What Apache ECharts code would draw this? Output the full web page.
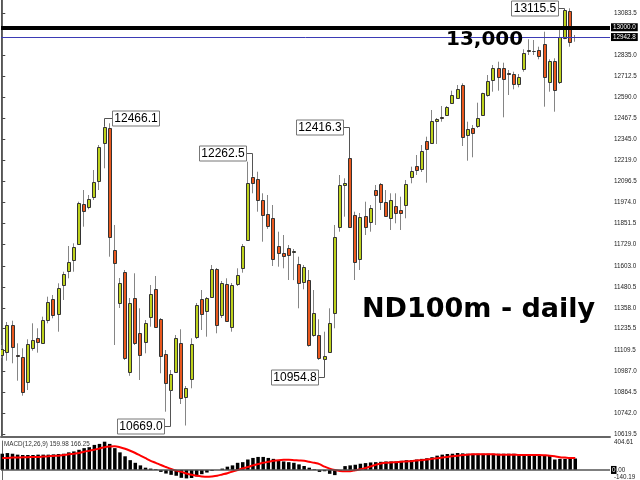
<!DOCTYPE html>
<html>
<head>
<meta charset="utf-8">
<script src="https://cdn.jsdelivr.net/npm/echarts@6/dist/echarts.min.js"></script>
<style>html,body{margin:0;padding:0;background:#fff}#c{width:640px;height:480px}</style>
</head>
<body>
<div id="c"></div>
<script>
// ---- data ----
const opens = [11081.8,11097.6,11255.6,11081.8,11071.8,10925.5,11124.5,11183.0,11153.8,11286.6,
11407.8,11321.8,11491.5,11575.2,11637.8,11729.7,11965.6,11949.8,12008.3,12102.0,
12320.9,12408.7,11696.3,11387.9,11569.3,10984.0,11413.7,11208.8,11159.6,11306.0,
11466.3,11292.5,11087.6,10876.9,10984.0,11150.3,10837.7,10939.6,11185.4,11407.8,
11339.3,11423.0,11583.4,11315.9,11497.3,11243.9,11497.3,11589.2,11754.9,12125.4,
12110.2,11989.0,11907.1,11881.9,11719.8,11680.5,11706.3,11684.6,11614.4,11507.3,
11520.8,11198.8,11198.8,11056.6,11101.1,11325.9,11832.7,12076.8,12233.1,11901.2,
11641.9,11895.4,11862.0,12047.5,12082.6,11979.1,11885.4,11953.9,11930.5,11959.7,
12121.9,12188.0,12168.7,12336.1,12320.9,12453.1,12473.0,12486.5,12555.0,12584.2,
12662.1,12369.4,12408.7,12422.1,12486.5,12603.6,12691.4,12759.8,12759.8,12730.6,
12726.5,12667.9,12754.0,12862.9,12861.1,12866.9,12902.1,12681.4,12802.6,12681.4,
12935.4,13097.0,12945.0];
const highs = [11140.3,11274.9,11282.5,11150.3,11121.0,11173.7,11267.3,11238.1,11306.0,11423.0,
11433.0,11501.4,11569.3,11719.8,11735.6,11979.1,12047.5,12018.3,12164.6,12310.9,
12422.1,12437.9,11842.7,11532.5,11579.3,11415.4,11560.0,11355.1,11286.6,11491.5,
11544.2,11298.3,11111.0,10994.0,11198.8,11232.2,10900.3,11179.5,11386.2,11462.2,
11421.3,11608.6,11591.0,11514.9,11530.7,11503.2,11589.2,11731.5,12213.2,12125.4,
12154.6,12028.2,12018.3,11959.7,11803.5,11784.1,11725.6,11702.2,11657.1,11608.6,
11579.3,11462.2,11290.7,11218.2,11355.1,11842.7,12135.3,12116.0,12233.1,11920.5,
11912.9,11979.1,11959.7,12076.8,12088.5,12047.5,12028.2,12028.2,12008.3,12106.1,
12183.9,12252.4,12310.9,12359.5,12515.8,12468.9,12539.2,12539.2,12628.7,12662.1,
12672.0,12447.3,12428.0,12558.5,12617.0,12720.6,12779.2,12798.5,12792.6,12749.9,
12740.0,12726.5,12871.0,12929.6,12925.5,12886.3,12974.1,12812.5,12818.4,13003.3,
13101.1,13111.0,12954.7];
const lows = [11064.2,11048.4,11033.2,10931.4,10843.6,10876.9,11107.0,11095.3,11152.0,11267.3,
11296.6,11218.2,11403.7,11530.7,11569.3,11725.6,11832.7,11934.6,11989.0,12047.5,
12174.5,11657.1,11140.3,11356.9,11052.5,10960.0,11140.3,10935.5,11091.7,11247.4,
11239.8,10974.7,10749.9,10876.9,10982.0,10795.0,10669.0,10886.9,11175.4,11228.1,
11188.9,11421.3,11208.8,11298.3,11274.9,11218.2,11485.6,11563.5,11749.0,12028.2,
11920.5,11744.9,11820.0,11602.7,11598.6,11589.2,11520.8,11520.0,11355.1,11466.3,
11130.4,11188.9,11052.5,11056.6,11093.5,11238.1,11803.5,11891.3,11825.0,11520.8,
11579.3,11784.1,11803.5,11842.7,11930.5,11890.0,11813.4,11852.6,11813.4,11881.9,
12086.7,12135.3,12152.9,12090.3,12316.8,12316.8,12447.3,12480.7,12550.9,12580.2,
12305.1,12219.0,12238.9,12410.4,12480.7,12593.6,12622.9,12628.7,12473.0,12603.6,
12636.9,12648.6,12740.0,12837.7,12837.7,12812.5,12535.1,12622.9,12505.8,12667.9,
12930.0,12886.3,12915.5];
const closes = [11116.9,11255.6,11126.8,11078.5,10867.0,11146.2,11169.6,11157.9,11286.6,11393.8,
11315.9,11472.2,11555.9,11626.1,11715.7,11969.7,11926.4,11993.1,12096.1,12301.0,
12414.5,11774.2,11618.5,11501.4,11062.5,11384.4,11150.3,11081.8,11270.8,11437.1,
11243.9,11075.9,10919.7,10970.6,11179.5,10828.4,10890.4,11146.2,11374.4,11321.8,
11413.7,11583.4,11257.4,11505.0,11282.5,11491.5,11550.0,11719.8,12086.7,12086.7,
11989.0,11901.2,11836.8,11641.9,11677.0,11661.2,11667.1,11692.3,11505.0,11595.1,
11140.3,11329.4,11062.5,11075.9,11267.3,11770.7,12076.8,12090.3,11832.7,11627.9,
11891.3,11832.7,11940.4,12018.3,11979.1,11895.4,11989.0,11911.2,11911.2,12082.6,
12158.7,12164.6,12277.6,12285.8,12453.1,12463.1,12470.0,12531.6,12603.6,12636.9,
12359.5,12402.8,12379.4,12467.2,12613.5,12685.5,12759.8,12707.2,12695.5,12728.0,
12667.9,12710.7,12847.6,12866.9,12859.0,12831.8,12707.2,12802.6,12632.8,12941.3,
13101.1,12915.5,12942.8];
const macdHist = [227,236,227,214,209,209,209,214,214,214,
218,223,227,246,259,282,305,318,350,364,
395,364,305,246,191,137,100,64,32,19,
10,-27,-50,-68,-81,-110,-118,-112,-90,-59,
-36,-13,0,19,46,64,100,109,146,168,
182,182,168,155,137,119,109,100,78,55,
32,10,-27,-18,-54,-72,-13,54,64,73,
87,96,105,109,114,119,119,119,128,137,
137,146,155,164,178,200,214,223,227,237,
232,227,227,227,227,227,227,227,227,227,
227,214,209,209,205,200,200,196,146,155,
155,155,159.98];
const macdSignal = [168,168,173,173,178,178,182,182,187,191,
196,200,209,218,227,237,255,268,282,300,
318,327,332,318,296,268,237,200,164,128,
100,69,41,14,-9,-27,-50,-68,-81,-90,
-95,-90,-81,-63,-45,-22,0,23,41,64,
82,100,114,128,137,141,141,137,132,128,
114,100,82,46,19,0,-13,-18,-18,-4,
10,28,50,73,91,100,105,109,114,119,
123,132,137,146,155,164,173,182,191,200,
209,214,218,218,218,218,218,214,214,214,
214,209,209,209,209,209,205,200,191,178,
173,168,166.25];
const priceTicks = [13083.5,12835.0,12712.5,12590.0,12467.5,12345.0,12219.0,12096.5,11974.0,11851.5,
11729.0,11603.0,11480.5,11358.0,11235.5,11109.5,10987.0,10864.5,10742.0,10619.5];
const macdTicks = [404.61, 0, -140.19];
const annIndex = [20, 49, 68, 110, 63, 33];
const annValue = [12466.1, 12262.5, 12416.3, 13115.5, 10954.8, 10669.0];
const annSide = ['right','left','left','left','left','left'];
const annAnchor = ['high','high','high','high','low','low'];
const levelRound = 13000.0;
const levelLast = 12942.8;

// ---- chart ----
const BULL = '#bdd11c', BEAR = '#e9581e', EDGE = '#333', WICK = '#858585';
const chart = echarts.init(document.getElementById('c'));
const candleData = opens.map((o, i) => [i, o, closes[i], lows[i], highs[i]]);

function renderCandle(params, api) {
  const i = api.value(0), o = api.value(1), c = api.value(2), l = api.value(3), h = api.value(4);
  const pO = api.coord([i, o]), pC = api.coord([i, c]);
  const pL = api.coord([i, l]), pH = api.coord([i, h]);
  const r = Math.round(pO[0]);
  const top = Math.round(Math.min(pO[1], pC[1])) + 0.5;
  const bot = Math.round(Math.max(pO[1], pC[1])) + 0.5;
  return {
    type: 'group',
    children: [
      { type: 'line', shape: { x1: r - 0.5, y1: pH[1], x2: r - 0.5, y2: pL[1] },
        style: { stroke: WICK, lineWidth: 1 } },
      { type: 'rect', shape: { x: r - 1.5, y: top, width: 3, height: Math.max(bot - top, 0) },
        style: { fill: c >= o ? BULL : BEAR, stroke: EDGE, lineWidth: 1 } }
    ]
  };
}

const axisFont = 'Liberation Sans';
chart.setOption({
  animation: false,
  backgroundColor: '#ffffff',
  grid: [
    { left: 1, top: 0, width: 609, height: 437, show: false },
    { left: 1, top: 441, width: 609, height: 40, show: false }
  ],
  xAxis: [
    { type: 'value', gridIndex: 0, min: -0.25, max: 118.79, show: true, position: 'bottom',
      axisLine: { show: true, onZero: false, lineStyle: { color: '#666', width: 2 } },
      axisTick: { show: false }, axisLabel: { show: false }, splitLine: { show: false } },
    { type: 'value', gridIndex: 1, min: -0.25, max: 118.79, show: false }
  ],
  yAxis: [
    { type: 'value', gridIndex: 0, position: 'right', min: 10601.8, max: 13159.6,
      splitLine: { show: false },
      axisLine: { show: true, lineStyle: { color: '#666', width: 1 } },
      axisTick: { show: true, length: 3, customValues: priceTicks, lineStyle: { color: '#444' } },
      axisLabel: { customValues: priceTicks, formatter: v => v.toFixed(1), fontSize: 6.3,
        fontFamily: axisFont, color: '#222', margin: 4 } },
    { type: 'value', gridIndex: 1, position: 'right', min: -140.19, max: 404.61,
      splitLine: { show: false },
      axisLine: { show: true, lineStyle: { color: '#666', width: 1 } },
      axisTick: { show: false },
      axisLabel: { customValues: macdTicks, fontSize: 6.3, fontFamily: axisFont, color: '#222', margin: 1,
        formatter: v => v === 0 ? '{z|0}{n|.00}' : (v > 0 ? '{t|' + v.toFixed(2) + '}' : '{b|' + v.toFixed(2) + '}'),
        rich: {
          z: { backgroundColor: '#000', color: '#fff', fontSize: 6.3, padding: [1, 1] },
          n: { color: '#222', fontSize: 6.3 },
          t: { color: '#222', fontSize: 6.3, padding: [3, 0, 0, 3] },
          b: { color: '#222', fontSize: 6.3, padding: [0, 0, 6, 3] }
        } } },
    { type: 'value', gridIndex: 0, position: 'left', min: 10601.8, max: 13159.6,
      axisLine: { show: true, lineStyle: { color: '#555', width: 1 } },
      axisTick: { show: false }, axisLabel: { show: false }, splitLine: { show: false } }
  ],
  series: [
    { type: 'custom', name: 'ND100m', xAxisIndex: 0, yAxisIndex: 0,
      renderItem: renderCandle, data: candleData,
      encode: { x: 0, y: [1, 2, 3, 4] }, clip: true,
      markLine: {
        silent: true, symbol: 'none', animation: false,
        data: [
          { yAxis: levelRound, lineStyle: { color: '#000', width: 4, type: 'solid' },
            label: { show: true, position: 'end', distance: 1, formatter: levelRound.toFixed(1),
              backgroundColor: '#000', color: '#fff', fontSize: 6.3, fontFamily: axisFont, padding: [1, 2] } },
          { yAxis: levelLast, lineStyle: { color: '#3b3bb5', width: 1, type: 'solid' },
            label: { show: true, position: 'end', distance: 1, formatter: levelLast.toFixed(1),
              backgroundColor: '#000', color: '#fff', fontSize: 6.3, fontFamily: axisFont, padding: [1, 2] } }
        ]
      } },
    { type: 'bar', name: 'MACD', xAxisIndex: 1, yAxisIndex: 1, barWidth: 3.5,
      data: macdHist.map((v, i) => [i, v]), itemStyle: { color: '#000' },
      markLine: { silent: true, symbol: 'none', animation: false,
        data: [{ yAxis: 0, lineStyle: { color: '#555', width: 1.5, type: 'solid' }, label: { show: false } }] } },
    { type: 'line', name: 'Signal', xAxisIndex: 1, yAxisIndex: 1, showSymbol: false, smooth: 0.3,
      data: macdSignal.map((v, i) => [i, v]), lineStyle: { color: '#ff0000', width: 2 }, itemStyle: { color: '#ff0000' } }
  ]
});

// annotations positioned through the chart's own scales
const toPx = (i, v) => chart.convertToPixel({ xAxisIndex: 0, yAxisIndex: 0 }, [i, v]);
const graphics = [];
annIndex.forEach((i, k) => {
  const v = annValue[k];
  const p = toPx(i, v);
  const cx = Math.round(p[0]) - 0.5;
  const ly = Math.round(p[1]) + 0.5;
  const ay = toPx(i, annAnchor[k] === 'high' ? highs[i] : lows[i])[1];
  const w = 47, h = 15, gap = 7;
  const bx = annSide[k] === 'right' ? Math.round(cx + gap) + 0.5 : Math.round(cx - gap - w) + 0.5;
  const edgeX = annSide[k] === 'right' ? bx : bx + w;
  graphics.push({ type: 'polyline', silent: true, z: 50,
    shape: { points: [[edgeX, ly], [cx, ly], [cx, ay]] },
    style: { stroke: '#555', lineWidth: 1, fill: null } });
  graphics.push({ type: 'rect', silent: true, z: 51,
    shape: { x: bx, y: ly - h / 2, width: w, height: h },
    style: { fill: '#fff', stroke: '#777', lineWidth: 1 } });
  graphics.push({ type: 'text', silent: true, z: 52, x: bx + w / 2, y: ly,
    style: { text: v.toFixed(1), font: '12px "Liberation Sans"', fill: '#000', align: 'center', verticalAlign: 'middle' } });
});
graphics.push({ type: 'text', silent: true, z: 60, x: 446, y: 39.5,
  style: { text: '13,000', font: 'bold 20px "DejaVu Sans"', fill: '#000', align: 'left', verticalAlign: 'middle' } });
graphics.push({ type: 'text', silent: true, z: 60, x: 362, y: 309.5,
  style: { text: 'ND100m - daily', font: 'bold 27px "DejaVu Sans"', fill: '#000', align: 'left', verticalAlign: 'middle' } });
graphics.push({ type: 'text', silent: true, z: 60, x: 4, y: 444,
  style: { text: 'MACD(12,26,9) ' + macdHist[macdHist.length - 1].toFixed(2) + ' ' + macdSignal[macdSignal.length - 1].toFixed(2),
    font: '6.3px "Liberation Sans"', fill: '#333', align: 'left', verticalAlign: 'middle' } });
chart.setOption({ graphic: graphics });
</script>
</body>
</html>
